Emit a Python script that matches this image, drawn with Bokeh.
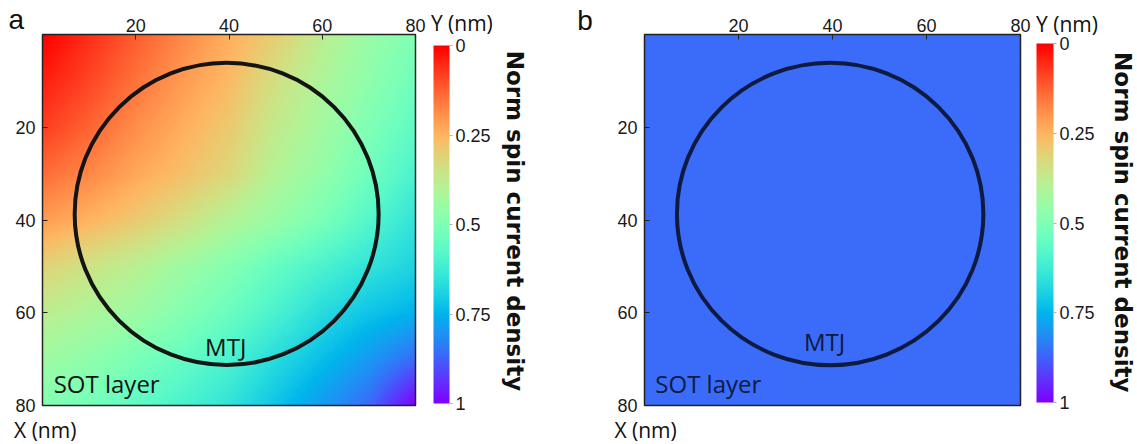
import numpy as np
from bokeh.plotting import figure
from bokeh.layouts import row
from bokeh.models import Range1d, FixedTicker, LinearColorMapper, ColorBar, Label, AllLabels
from bokeh.embed import file_html
from bokeh.resources import INLINE

# Sample positions (nm) of the density map along both in-plane directions
grid_nm = [0, 10, 20, 30, 40, 50, 60, 70, 80]

# Panel a: normalised spin current density; rows run along X (vertical), columns along Y (horizontal)
density_a = [
    [0.00, 0.06, 0.12, 0.18, 0.24, 0.30, 0.38, 0.45, 0.50],
    [0.04, 0.09, 0.15, 0.21, 0.26, 0.34, 0.41, 0.47, 0.53],
    [0.08, 0.13, 0.19, 0.24, 0.29, 0.37, 0.43, 0.50, 0.56],
    [0.14, 0.18, 0.23, 0.27, 0.32, 0.40, 0.46, 0.53, 0.60],
    [0.21, 0.25, 0.29, 0.34, 0.40, 0.45, 0.51, 0.58, 0.65],
    [0.31, 0.35, 0.39, 0.44, 0.49, 0.55, 0.60, 0.65, 0.69],
    [0.38, 0.41, 0.44, 0.49, 0.54, 0.60, 0.67, 0.72, 0.75],
    [0.44, 0.47, 0.51, 0.55, 0.60, 0.67, 0.73, 0.79, 0.86],
    [0.49, 0.52, 0.56, 0.60, 0.65, 0.72, 0.79, 0.86, 1.00],
]

# Panel b: the density is uniform over the whole SOT layer
density_b_level = 0.86

# MTJ outline: centre (Y, X) and radius in nm
mtj_center_y = 39.5
mtj_center_x = 38.7
mtj_radius = 32.6

axis_ticks = [20, 40, 60, 80]
cbar_ticks = [0, 0.25, 0.5, 0.75, 1]

FIG_H = 444


def rainbow_palette(n=256):
    """Red (density 0) through orange, green, cyan and blue to violet (density 1)."""
    out = []
    for t in np.linspace(0.0, 1.0, n):
        s = 1.0 - t
        r = min(1.0, abs(2.0 * s - 0.5))
        g = np.sin(np.pi * s)
        b = max(0.0, np.cos(np.pi * s / 2.0))
        out.append("#%02x%02x%02x" % (int(round(255 * r)), int(round(255 * g)), int(round(255 * b))))
    return out


PALETTE = rainbow_palette()


def smooth_field(field, n=161):
    """Resample the grid readings onto a fine raster for display."""
    field = np.asarray(field, dtype=float)
    fine = np.linspace(grid_nm[0], grid_nm[-1], n)
    along_y = np.array([np.interp(fine, grid_nm, r) for r in field])
    return np.array([np.interp(fine, grid_nm, c) for c in along_y.T]).T


def make_panel(field, cfg):
    lo, hi = grid_nm[0], grid_nm[-1]
    # pixel placement of the map inside this figure's canvas
    left, right, top, bottom = cfg["map_px"]
    kx = (right - left) / (hi - lo)
    ky = (bottom - top) / (hi - lo)
    x_range = Range1d(lo - left / kx, lo + (cfg["width"] - left) / kx)
    y_range = Range1d(lo + (FIG_H - top) / ky, lo - top / ky)   # X grows downward

    p = figure(
        width=cfg["width"], height=FIG_H,
        x_range=x_range, y_range=y_range,
        x_axis_location="above",
        toolbar_location=None, output_backend="svg",
        min_border=0, min_border_left=0, min_border_right=0,
        min_border_top=0, min_border_bottom=0,
        background_fill_color="white", border_fill_color="white",
    )
    p.grid.visible = False
    p.outline_line_color = None

    mapper = LinearColorMapper(palette=PALETTE, low=0, high=1)
    p.image(image=[smooth_field(field)], x=lo, y=lo, dw=hi - lo, dh=hi - lo, color_mapper=mapper)

    # map border
    p.quad(left=[lo], right=[hi], top=[lo], bottom=[hi], fill_color=None,
           line_color="#222222", line_width=1.5)

    p.ellipse(x=[mtj_center_y], y=[mtj_center_x], width=[2 * mtj_radius], height=[2 * mtj_radius],
              fill_color=None, line_color=cfg["ink"], line_width=4)

    # axes pinned to the map's top and left edges
    p.xaxis.fixed_location = lo
    p.yaxis.fixed_location = lo
    for ax in (p.xaxis, p.yaxis):
        ax.ticker = FixedTicker(ticks=axis_ticks)
        ax.axis_line_color = None
        ax.major_tick_in = 5
        ax.major_tick_out = 0
        ax.major_tick_line_color = "#222222"
        ax.minor_tick_line_color = None
        ax.major_label_text_font = "Liberation Sans"
        ax.major_label_text_font_size = "18px"
        ax.major_label_text_color = "#1a1a1a"
    p.xaxis.major_label_standoff = 3
    p.yaxis.major_label_standoff = 7

    # Colour bar: value axis runs downward (0 at top, 1 at bottom)
    cb_mapper = LinearColorMapper(palette=PALETTE[::-1], low=-1, high=0)
    cb_left, cb_top, cb_w, cb_h = cfg["cb_px"]
    cb = ColorBar(
        color_mapper=cb_mapper,
        ticker=FixedTicker(ticks=[-t for t in cbar_ticks]),
        major_label_overrides={-t: f"{t:g}" for t in cbar_ticks},
        major_label_policy=AllLabels(),
        width=cb_w, height=cb_h, location=(cb_left, FIG_H - (cb_top + cb_h)),
        padding=0, margin=0, label_standoff=3,
        major_tick_in=0, major_tick_out=3, major_tick_line_color="#b0b0b0",
        minor_tick_line_color=None, bar_line_color=None,
        border_line_color=None, background_fill_color=None,
        major_label_text_font="Liberation Sans", major_label_text_font_size="18px",
        major_label_text_color="#1a1a1a",
    )
    p.add_layout(cb)

    def label(x, y, text, font, size, color="#111111", **kw):
        kw.setdefault("text_baseline", "bottom")
        p.add_layout(Label(x=x, y=y, text=text, text_font=font, text_font_size=size,
                           text_color=color, **kw))

    label(*cfg["letter_pos"], cfg["letter"], "Liberation Sans", "28px")
    label(*cfg["ylab_pos"], "Y (nm)", "Open Sans", "21px")
    label(*cfg["xlab_pos"], "X (nm)", "Open Sans", "21px")
    label(*cfg["mtj_pos"], "MTJ", "Open Sans", "24px", color=cfg["ink"], text_align="center")
    label(*cfg["sot_pos"], "SOT layer", "Open Sans", "24px", color=cfg["ink"])
    label(*cfg["title_pos"], "Norm spin current density", "DejaVu Sans", "23px",
          text_font_style="bold", angle=-90, angle_units="deg",
          text_align="left", text_baseline="middle")
    return p


panel_a = dict(
    width=560, map_px=(42, 415, 34, 405), ink="#141414", letter="a",
    cb_px=(433, 45, 16, 358),
    letter_pos=(-7.3, 0.1), ylab_pos=(83.3, 0.45), xlab_pos=(-6.1, 88.2),
    mtj_pos=(39.3, 70.8), sot_pos=(2.4, 78.9), title_pos=(101.3, 3.5),
)
panel_b = dict(
    width=577, map_px=(84, 460, 34, 405), ink="#0e1a40", letter="b",
    cb_px=(476, 43, 17, 359),
    letter_pos=(-14.3, 0.3), ylab_pos=(83.3, 0.65), xlab_pos=(-6.4, 88.2),
    mtj_pos=(38.3, 69.8), sot_pos=(2.3, 78.9), title_pos=(101.8, 3.8),
)

pa = make_panel(density_a, panel_a)
pb = make_panel(np.full((len(grid_nm), len(grid_nm)), density_b_level), panel_b)

layout = row(pa, pb, spacing=0)
open("out.html", "w").write(file_html(layout, INLINE))
